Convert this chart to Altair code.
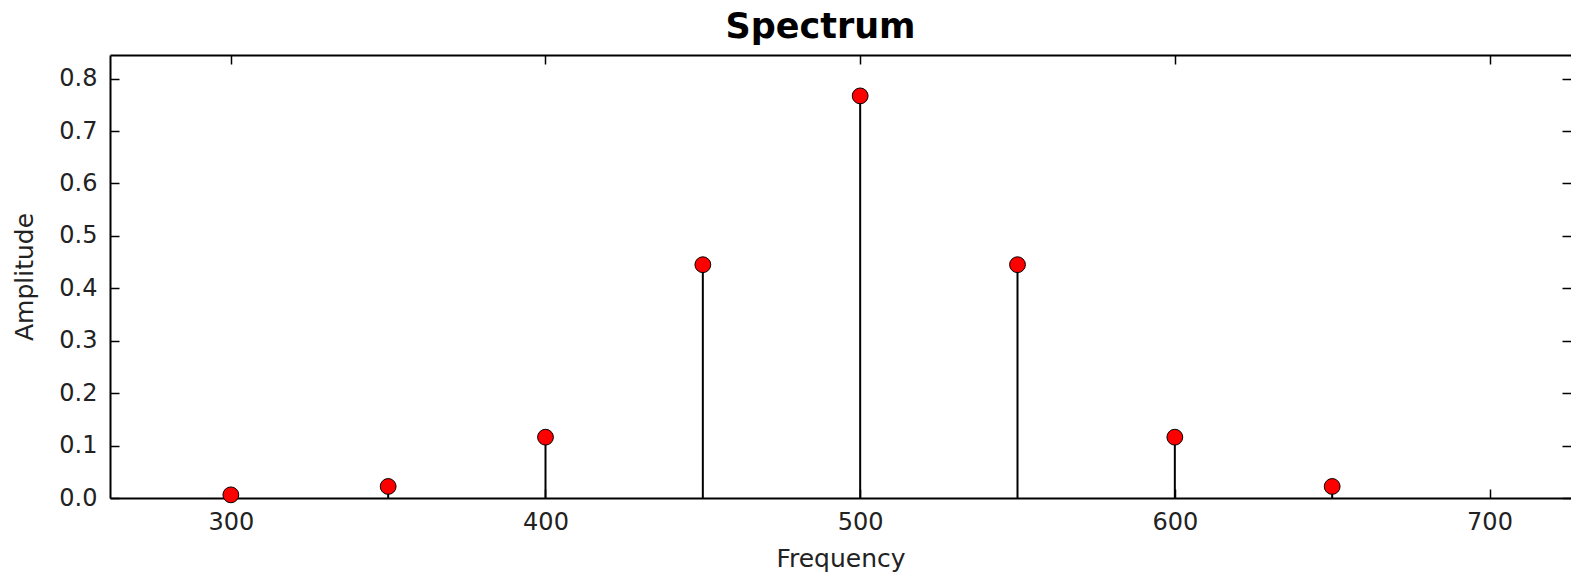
import altair as alt
import pandas as pd

# ---- data ----
freq = [300, 350, 400, 450, 500, 550, 600, 650]
amp = [0.006, 0.022, 0.116, 0.445, 0.767, 0.445, 0.116, 0.022]
x_ticks = [300, 400, 500, 600, 700]
y_ticks = [0.0, 0.1, 0.2, 0.3, 0.4, 0.5, 0.6, 0.7, 0.8]

df = pd.DataFrame({"Frequency": freq, "Amplitude": amp})

W, H = 1461, 443
FONT = "DejaVu Sans"
TXT = "#222222"
xs = alt.Scale(domain=[261.6, 725.9], nice=False, zero=False)
ys = alt.Scale(domain=[0, 0.845], nice=False, zero=False)

TICK = dict(ticks=True, tickSize=9, tickWidth=1.5, tickColor="black",
            labels=False, grid=False, title=None)

# main axes: labels + left/bottom spines
x_main = alt.Axis(orient="bottom", values=x_ticks, ticks=False, tickSize=0,
                  labelPadding=12, labelFont=FONT, labelFontSize=24, labelColor=TXT,
                  domain=True, domainColor="black", domainWidth=2, grid=False,
                  title="Frequency", titleFont=FONT, titleFontSize=25,
                  titleFontWeight="normal", titleColor=TXT, titleY=68,
                  titleBaseline="alphabetic")
y_main = alt.Axis(orient="left", values=y_ticks, format=".1f", ticks=False, tickSize=0,
                  labelPadding=13, labelFont=FONT, labelFontSize=24, labelColor=TXT,
                  domain=True, domainColor="black", domainWidth=2, grid=False,
                  title="Amplitude", titleFont=FONT, titleFontSize=25,
                  titleFontWeight="normal", titleColor=TXT, titleX=-86, titleY=H / 2,
                  titleAngle=270, titleAlign="center", titleBaseline="middle")

# inward ticks at bottom / left
x_in_bottom = alt.Axis(orient="top", offset=-H, values=x_ticks, domain=False, **TICK)
y_in_left = alt.Axis(orient="right", offset=-W, values=y_ticks, domain=False, **TICK)

# top spine with inward ticks, and inward ticks at the right edge
x_top = alt.Axis(orient="bottom", offset=-H, values=x_ticks, domain=True,
                 domainColor="black", domainWidth=2, **TICK)
y_right = alt.Axis(orient="left", offset=-W, values=y_ticks, domain=False, **TICK)

stems = alt.Chart(df).mark_rule(color="black", strokeWidth=2).encode(
    x=alt.X("Frequency:Q", scale=xs, axis=x_main),
    y=alt.Y("Amplitude:Q", scale=ys, axis=y_main),
    y2=alt.datum(0),
)

points = alt.Chart(df).mark_circle(size=250, color="#ff0000", stroke="black",
                                   strokeWidth=1, opacity=1).encode(
    x=alt.X("Frequency:Q", scale=xs, axis=x_in_bottom),
    y=alt.Y("Amplitude:Q", scale=ys, axis=y_in_left),
)

frame = alt.Chart(df).mark_point(opacity=0).encode(
    x=alt.X("Frequency:Q", scale=xs, axis=x_top),
    y=alt.Y("Amplitude:Q", scale=ys, axis=y_right),
)

chart = (
    alt.layer(stems, points, frame)
    .resolve_axis(x="independent", y="independent")
    .properties(
        width=W,
        height=H,
        title=alt.TitleParams("Spectrum", font=FONT, fontSize=35, fontWeight="bold",
                              color="black", anchor="middle", dx=-20, dy=29, offset=10,
                              baseline="alphabetic"),
        autosize=alt.AutoSizeParams(type="none"),
        padding={"left": 110, "top": 55, "right": 0, "bottom": 77},
        background="white",
    )
    .configure_view(stroke=None)
)

chart.save("out.html", embed_options={"renderer": "svg", "actions": False})
